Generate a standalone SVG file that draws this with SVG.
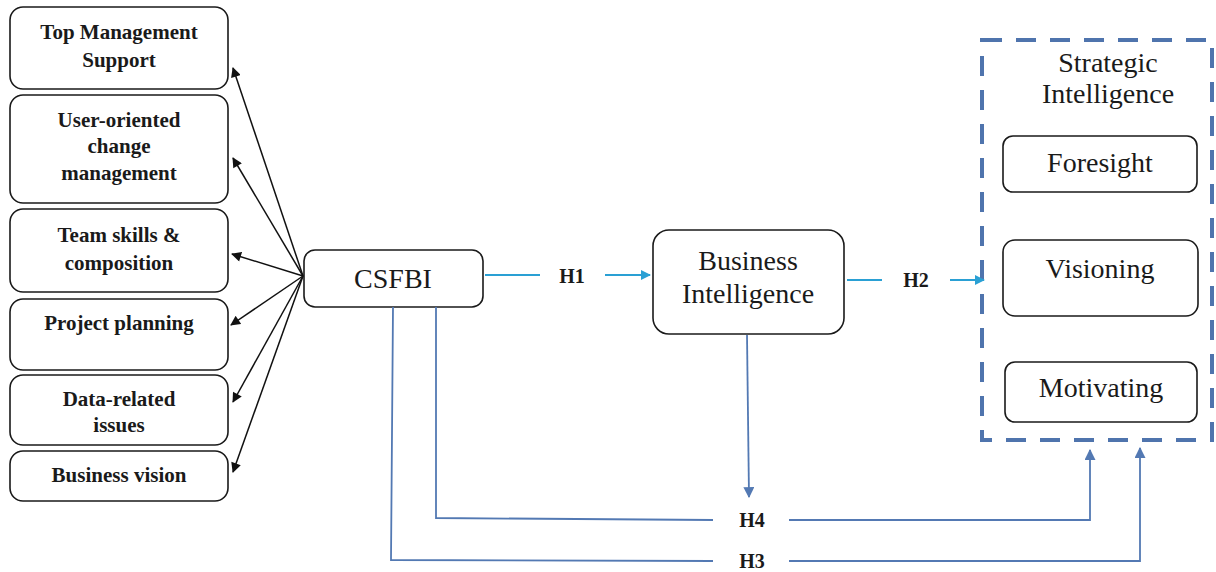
<svg xmlns="http://www.w3.org/2000/svg" width="1216" height="572" viewBox="0 0 1216 572">
<defs>
<style>
.box{fill:#fff;stroke:#1a1a1a;stroke-width:1.6}
.lt{font-family:"Liberation Serif","Times New Roman",serif;font-weight:bold;font-size:21px;fill:#1a1a1a;text-anchor:middle}
.mt{font-family:"Liberation Serif","Times New Roman",serif;font-size:28px;fill:#1a1a1a;text-anchor:middle}
.hl{font-family:"Liberation Serif","Times New Roman",serif;font-weight:bold;font-size:20px;fill:#1a1a1a;text-anchor:middle}
.blk{stroke:#111;stroke-width:1.5;fill:none;marker-end:url(#ab)}
.cy{stroke:#2aa0d4;stroke-width:1.8;fill:none}
.st{stroke:#5379b3;stroke-width:1.8;fill:none}
</style>
<marker id="ab" viewBox="0 0 10 10" refX="9" refY="5" markerWidth="11" markerHeight="10" markerUnits="userSpaceOnUse" orient="auto"><path d="M0,0 L10,5 L0,10 z" fill="#111"/></marker>
<marker id="ac" viewBox="0 0 10 10" refX="9" refY="5" markerWidth="10" markerHeight="10" markerUnits="userSpaceOnUse" orient="auto"><path d="M0,0 L10,5 L0,10 z" fill="#2aa0d4"/></marker>
<marker id="as" viewBox="0 0 10 10" refX="9" refY="5" markerWidth="11" markerHeight="11" markerUnits="userSpaceOnUse" orient="auto"><path d="M0,0 L10,5 L0,10 z" fill="#5379b3"/></marker>
</defs>
<rect width="1216" height="572" fill="#fff"/>

<g id="top-management"><rect class="box" x="10" y="7" width="218" height="82" rx="13"/><text class="lt" x="119" y="39">Top Management</text><text class="lt" x="119" y="67">Support</text></g>
<g id="user-oriented"><rect class="box" x="10" y="95" width="218" height="108" rx="13"/><text class="lt" x="119" y="127">User-oriented</text><text class="lt" x="119" y="153">change</text><text class="lt" x="119" y="180">management</text></g>
<g id="team-skills"><rect class="box" x="10" y="209" width="218" height="83" rx="13"/><text class="lt" x="119" y="242">Team skills &amp;</text><text class="lt" x="119" y="270">composition</text></g>
<g id="project-planning"><rect class="box" x="10" y="299" width="218" height="71" rx="13"/><text class="lt" x="119" y="330">Project planning</text></g>
<g id="data-related"><rect class="box" x="10" y="375" width="218" height="70" rx="13"/><text class="lt" x="119" y="406">Data-related</text><text class="lt" x="119" y="432">issues</text></g>
<g id="business-vision"><rect class="box" x="10" y="451" width="218" height="50" rx="13"/><text class="lt" x="119" y="482">Business vision</text></g>

<g id="csfbi"><rect class="box" x="304" y="250" width="179" height="57" rx="11"/><text class="mt" x="393" y="288">CSFBI</text></g>
<g id="business-intelligence"><rect class="box" x="653" y="230" width="191" height="104" rx="16"/><text class="mt" x="748" y="270">Business</text><text class="mt" x="748" y="303">Intelligence</text></g>

<g id="strategic-intelligence">
<rect x="982" y="40" width="230" height="400" fill="none" stroke="#4f74ad" stroke-width="4" stroke-dasharray="20 14"/>
<text class="mt" x="1108" y="72">Strategic</text><text class="mt" x="1108" y="103">Intelligence</text>
</g>
<g id="foresight"><rect class="box" x="1003" y="136" width="194" height="56" rx="10"/><text class="mt" x="1100" y="172">Foresight</text></g>
<g id="visioning"><rect class="box" x="1003" y="240" width="195" height="76" rx="12"/><text class="mt" x="1100" y="278">Visioning</text></g>
<g id="motivating"><rect class="box" x="1005" y="362" width="192" height="60" rx="10"/><text class="mt" x="1101" y="397">Motivating</text></g>

<g id="connectors">
<line class="blk" x1="303" y1="276" x2="233" y2="68"/>
<line class="blk" x1="303" y1="276" x2="233" y2="158"/>
<line class="blk" x1="303" y1="276" x2="232" y2="254"/>
<line class="blk" x1="303" y1="276" x2="231" y2="325"/>
<line class="blk" x1="303" y1="276" x2="233" y2="402"/>
<line class="blk" x1="303" y1="276" x2="233" y2="472"/>

<line class="cy" x1="485" y1="275" x2="540" y2="275"/>
<line class="cy" x1="605" y1="275" x2="650" y2="275" marker-end="url(#ac)"/>
<line class="cy" x1="847" y1="280" x2="882" y2="280"/>
<line class="cy" x1="950" y1="280" x2="984" y2="280" marker-end="url(#ac)"/>

<line class="st" x1="747" y1="335" x2="749" y2="497" marker-end="url(#as)"/>
<polyline class="st" points="436,307 436,518 713,520"/>
<polyline class="st" points="789,520 1090,520 1090,450" marker-end="url(#as)"/>
<polyline class="st" points="393,307 391,560 713,561"/>
<polyline class="st" points="789,561 1140,561 1140,448" marker-end="url(#as)"/>

<text class="hl" x="572" y="283">H1</text>
<text class="hl" x="916" y="287">H2</text>
<text class="hl" x="752" y="527">H4</text>
<text class="hl" x="752" y="568">H3</text>
</g>
</svg>
